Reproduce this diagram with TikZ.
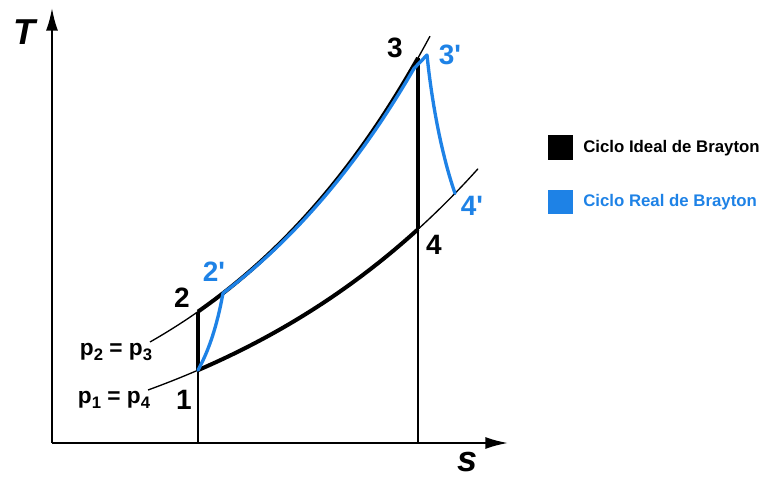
\documentclass[tikz,border=0pt]{standalone}
\usepackage{fontspec}
\setmainfont{Liberation Sans}
\usetikzlibrary{arrows.meta}
\definecolor{realblue}{RGB}{30,130,230}
\newcommand{\subx}[1]{\raisebox{-0.45ex}{\fontsize{12.5}{12.5}\selectfont #1}}
\newcommand{\pr}{\textquotesingle}
\tikzset{
  axis/.style={line width=1.5pt,-{Latex[length=17pt,width=9pt]}},
  thinline/.style={line width=1.1pt},
  iso/.style={line width=1pt},
  ideal/.style={line width=3pt,line join=round},
  real/.style={realblue,line width=2.5pt,line join=round,line cap=round},
  num/.style={font=\fontsize{21}{21}\selectfont\bfseries,inner sep=0pt},
  plab/.style={font=\fontsize{17}{17}\selectfont\bfseries,inner sep=0pt},
  axlab/.style={font=\fontsize{27}{27}\selectfont\bfseries\itshape,inner sep=0pt},
  leg/.style={font=\fontsize{12.6}{12.6}\selectfont\bfseries,inner sep=0pt,anchor=west},
}
\begin{document}
\begin{tikzpicture}[x=0.75pt,y=-0.75pt,
  declare function={yu(\x)=477-135*exp(0.004227*(\x-150));
                    yl(\x)=497.5-107.5*exp(0.003395*(\x-148));}]
\useasboundingbox (0,0) rectangle (764,477);
% axes
\coordinate (O) at (52,443);
\coordinate (Tend) at (52,8);
\coordinate (Send) at (508,443);
\draw[axis] (O) -- (Tend);
\draw[axis] (O) -- (Send);
\node[axlab] (Tl) at (24,32) {T};
\node[axlab,anchor=base,text depth=0pt] (Sl) at (468,471) {s};
% points
\coordinate (P1) at (198,{yl(198)});
\coordinate (P2) at (198,{yu(198)});
\coordinate (P3) at (418,{yu(418)});
\coordinate (P4) at (418,{yl(418)});
\coordinate (P2r) at (223,{yu(223)});
\coordinate (P3r) at (427,55);
\coordinate (P4r) at (455,{yl(455)});
\coordinate (B1) at (198,443);
\coordinate (B4) at (418,443);
% thin verticals
\draw[thinline] (B1) -- (P1);
\draw[thinline] (B4) -- (P4);
% isobars
\draw[iso] plot[domain=150:430,samples=60] (\x,{yu(\x)});
\draw[iso] plot[domain=148:478,samples=60] (\x,{yl(\x)});
% ideal cycle
\draw[ideal] (P1) -- (P2);
\draw[ideal] (P4) -- (P3);
\draw[ideal] plot[domain=198:418,samples=50] (\x,{yu(\x)});
\draw[ideal] plot[domain=198:418,samples=50] (\x,{yl(\x)});
% real cycle
\draw[real] (P1) .. controls (212,345) and (219,315) .. (P2r);
\draw[real] plot[domain=223:414,samples=50] (\x,{yu(\x)+3.5*(\x-223)/191}) -- (P3r);
\draw[real] (P3r) .. controls (431,95) and (440,150) .. (P4r);
% labels
\node[num] (L1) at (184,400) {1};
\node[num] (L2) at (182,298) {2};
\node[num,realblue] (L2r) at (214,272) {2\pr};
\node[num] (L3) at (395,48) {3};
\node[num,realblue] (L3r) at (450,55) {3\pr};
\node[num] (L4) at (434,245) {4};
\node[num,realblue] (L4r) at (472,206) {4\pr};
\node[plab] (Pa) at (116,352) {p\subx{2} = p\subx{3}};
\node[plab] (Pb) at (114,400) {p\subx{1} = p\subx{4}};
% legend
\fill[black] (548,135) rectangle (573,160);
\fill[realblue] (548,190) rectangle (573,214);
\node[leg] (Lg1) at (583,148) {Ciclo Ideal de Brayton};
\node[leg,realblue] (Lg2) at (583,202) {Ciclo Real de Brayton};
\end{tikzpicture}
\end{document}
